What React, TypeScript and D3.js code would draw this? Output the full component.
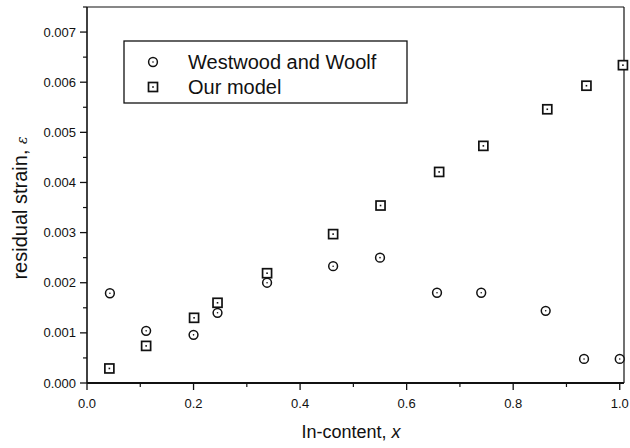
import React from 'react'
import * as d3 from 'd3'

// Westwood and Woolf (circles)
const wwX = [0.043, 0.111, 0.2, 0.245, 0.338, 0.462, 0.55, 0.657, 0.74, 0.861, 0.933, 1.0]
const wwY = [0.00179, 0.00104, 0.00096, 0.0014, 0.002, 0.00233, 0.0025, 0.0018, 0.0018, 0.00144, 0.00048, 0.00048]

// Our model (squares)
const omX = [0.042, 0.111, 0.201, 0.245, 0.338, 0.462, 0.551, 0.661, 0.744, 0.864, 0.9375, 1.006]
const omY = [0.00029, 0.00074, 0.0013, 0.0016, 0.00219, 0.00297, 0.00354, 0.00421, 0.00473, 0.00546, 0.00593, 0.00634]

const xTicks = [0, 0.2, 0.4, 0.6, 0.8, 1.0]
const xMinor = [0.1, 0.3, 0.5, 0.7, 0.9]
const yTicks = [0, 0.001, 0.002, 0.003, 0.004, 0.005, 0.006, 0.007]
const yMinor = [0.0005, 0.0015, 0.0025, 0.0035, 0.0045, 0.0055, 0.0065, 0.0075]

const legendLabels = ['Westwood and Woolf', 'Our model']

const W = 630
const H = 448
const m = { l: 87, r: 6, t: 7, b: 65 }
const font = '"Liberation Sans", Arial, sans-serif'
const ink = '#111'

function Circle({ cx, cy }: { cx: number; cy: number }) {
  return (
    <g>
      <circle cx={cx} cy={cy} r={4.4} fill="#fff" stroke={ink} strokeWidth={1.5} />
      <circle cx={cx} cy={cy} r={0.8} fill={ink} />
    </g>
  )
}

function Square({ cx, cy }: { cx: number; cy: number }) {
  const s = 9
  return (
    <g>
      <rect x={cx - s / 2} y={cy - s / 2} width={s} height={s} fill="#fff" stroke={ink} strokeWidth={1.7} />
      <rect x={cx - 0.8} y={cy - 0.8} width={1.6} height={1.6} fill={ink} />
    </g>
  )
}

export default function App() {
  const x = d3.scaleLinear().domain([0, 1.008]).range([m.l, W - m.r])
  const y = d3.scaleLinear().domain([0, 0.0075]).range([H - m.b, m.t])
  const x0 = x(0)
  const y0 = y(0)
  const xr = W - m.r
  const yt = m.t

  return (
    <svg width={W} height={H} style={{ position: 'absolute', left: 0, top: 0, background: '#fff' }}>
      {/* frame */}
      <line x1={x0} x2={xr} y1={yt} y2={yt} stroke={ink} strokeWidth={1.2} />
      <line x1={xr} x2={xr} y1={yt} y2={y0} stroke={ink} strokeWidth={1.2} />
      <line x1={x0} x2={x0} y1={yt} y2={y0} stroke={ink} strokeWidth={1.6} />
      <line x1={x0} x2={xr} y1={y0} y2={y0} stroke={ink} strokeWidth={1.8} />

      {/* x ticks */}
      {xTicks.map(t => (
        <g key={'xt' + t}>
          <line x1={x(t)} x2={x(t)} y1={y0} y2={y0 + 7} stroke={ink} strokeWidth={1.3} />
          <text x={x(t)} y={y0 + 25} textAnchor="middle" fontFamily={font} fontSize={13} fill={ink}>
            {d3.format('.1f')(t)}
          </text>
        </g>
      ))}
      {xMinor.map(t => (
        <line key={'xm' + t} x1={x(t)} x2={x(t)} y1={y0} y2={y0 + 4} stroke={ink} strokeWidth={1.2} />
      ))}

      {/* y ticks */}
      {yTicks.map(t => (
        <g key={'yt' + t}>
          <line x1={x0 - 7} x2={x0} y1={y(t)} y2={y(t)} stroke={ink} strokeWidth={1.3} />
          <text x={x0 - 11} y={y(t) + 4.5} textAnchor="end" fontFamily={font} fontSize={13} fill={ink}>
            {d3.format('.3f')(t)}
          </text>
        </g>
      ))}
      {yMinor.map(t => (
        <line key={'ym' + t} x1={x0 - 4} x2={x0} y1={y(t)} y2={y(t)} stroke={ink} strokeWidth={1.2} />
      ))}

      {/* axis titles */}
      <text x={351} y={438} textAnchor="middle" fontFamily={font} fontSize={18} fill={ink}>
        In-content, <tspan fontStyle="italic">x</tspan>
      </text>
      <text
        transform={`translate(27,208) rotate(-90)`}
        textAnchor="middle"
        fontFamily={font}
        fontSize={20}
        fill={ink}
      >
        residual strain, <tspan fontStyle="italic" fontSize={14} fontFamily="'DejaVu Serif', serif">ε</tspan>
      </text>

      {/* data */}
      {wwX.map((v, i) => (
        <Circle key={'w' + i} cx={x(v)} cy={y(wwY[i])} />
      ))}
      {omX.map((v, i) => (
        <Square key={'o' + i} cx={x(v)} cy={y(omY[i])} />
      ))}

      {/* legend */}
      <rect x={124} y={41} width={283} height={62} fill="#fff" stroke={ink} strokeWidth={1.3} />
      <Circle cx={153} cy={62} />
      <Square cx={153} cy={87} />
      <text x={188} y={69} fontFamily={font} fontSize={20} fill={ink}>{legendLabels[0]}</text>
      <text x={188} y={94} fontFamily={font} fontSize={20} fill={ink}>{legendLabels[1]}</text>
    </svg>
  )
}
